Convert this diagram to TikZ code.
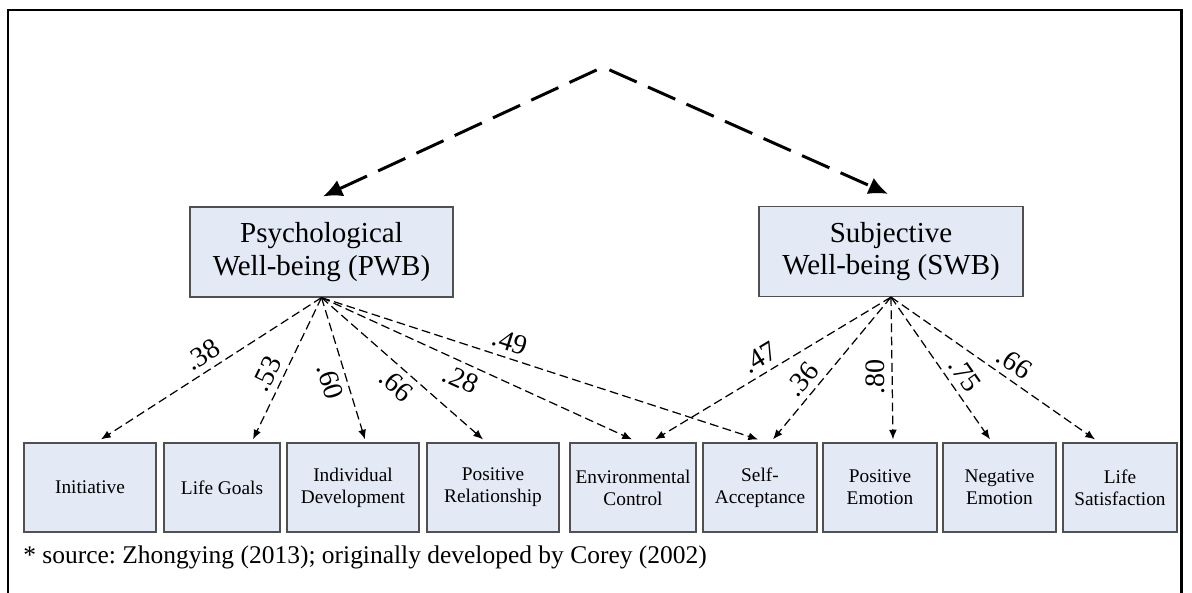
\documentclass[tikz,border=0pt]{standalone}
\usepackage{fontspec}
\setmainfont{Liberation Serif}
\usetikzlibrary{arrows.meta}
\usetikzlibrary{calc}
\frenchspacing
\definecolor{boxfill}{HTML}{E3EAF5}
\definecolor{boxline}{HTML}{505050}
\tikzset{factor/.style={draw=boxline,fill=boxfill,line width=0.7pt,align=center,
  minimum height=1.8cm,font=\fontsize{16.5}{18.5}\selectfont}}
\tikzset{facet/.style={draw=boxline,fill=boxfill,line width=0.7pt,align=center,
  minimum height=1.78cm,inner sep=1pt,font=\fontsize{11}{12.5}\selectfont}}
\tikzset{toparrow/.style={line width=1.7pt,dash pattern=on 17pt off 7pt,
  -{Latex[length=11pt,width=10pt]},shorten <=4pt}}
\tikzset{load/.style={line width=0.7pt,dash pattern=on 5pt off 2.5pt,
  -{Latex[length=5.5pt,width=4.5pt]}}}
\tikzset{coef/.style={font=\fontsize{16}{16}\selectfont,inner sep=3.5pt}}

\begin{document}
\begin{tikzpicture}[x=0.02cm,y=-0.02cm]

		\useasboundingbox (0,0) rectangle (1192,592);

		% The frame
		\draw [line width=1.7pt] (8,600) -- (8,10) -- (1181,10) -- (1181,600);

		% The two factors
		\node [factor, minimum width=5.26cm] (pwb) at (321.5,252)
			{Psychological\\Well-being (PWB)};
		\node [factor, minimum width=5.28cm] (swb) at (891,251.5)
			{Subjective\\Well-being (SWB)};

		% The facets
		\node [facet, minimum width=2.64cm] (init)    at (90,487.5)   {Initiative};
		\node [facet, minimum width=2.32cm] (goals)   at (222,487.5)  {Life Goals};
		\node [facet, minimum width=2.64cm] (indiv)   at (353,487.5)  {Individual\\Development};
		\node [facet, minimum width=2.64cm] (posrel)  at (493,487.5)  {Positive\\Relationship};
		\node [facet, minimum width=2.52cm] (envc)    at (633,487.5)  {Environmental\\Control};
		\node [facet, minimum width=2.28cm] (selfacc) at (760,487.5)  {Self-\\Acceptance};
		\node [facet, minimum width=2.28cm] (posem)   at (880,487.5)  {Positive\\Emotion};
		\node [facet, minimum width=2.26cm] (negem)   at (999.5,487.5){Negative\\Emotion};
		\node [facet, minimum width=2.28cm] (lifesat) at (1120,487.5) {Life\\Satisfaction};

		% The top arrows
		\coordinate (apex) at (603,67);
		\draw [toparrow] (apex) -- ($(pwb.north)+(1.5,-10)$);
		\draw [toparrow] (apex) -- ($(swb.north)+(-3,-12)$);

		% Loadings of PWB
		\draw [load] (pwb.south) -- ($(init.north)+(11,-3)$)
			node [coef, sloped, pos=0.5, above] {.38};
		\draw [load] (pwb.south) -- ($(goals.north)+(31,-3)$)
			node [coef, sloped, pos=0.59, above] {.53};
		\draw [load] (pwb.south) -- ($(indiv.north)+(12,-3)$)
			node [coef, sloped, pos=0.56, below] {.60};
		\draw [load] (pwb.south) -- ($(posrel.north)+(-10,-3)$)
			node [coef, sloped, pos=0.53, below] {.66};
		\draw [load] (pwb.south) -- ($(envc.north)+(-1,-3)$)
			node [coef, sloped, pos=0.47, below] {.28};
		\draw [load] (pwb.south) -- ($(selfacc.north)+(-2,-3)$)
			node [coef, sloped, pos=0.42, above] {.49};

		% Loadings of SWB
		\draw [load] (swb.south) -- ($(envc.north)+(22,-3)$)
			node [coef, sloped, pos=0.52, above] {.47};
		\draw [load] (swb.south) -- ($(selfacc.north)+(13,-3)$)
			node [coef, sloped, pos=0.65, above] {.36};
		\draw [load] (swb.south) -- ($(posem.north)+(13,-3)$)
			node [coef, rotate=90, pos=0.56, above] {.80};
		\draw [load] (swb.south) -- ($(negem.north)+(-9.5,-3)$)
			node [coef, sloped, pos=0.61, above] {.75};
		\draw [load] (swb.south) -- ($(lifesat.north)+(-25,-3)$)
			node [coef, sloped, pos=0.56, above] {.66};

		% The source
		\node [anchor=west, inner sep=0pt, font=\fontsize{14.5}{16}\selectfont] (source)
			at (23,557) {* source: Zhongying (2013); originally developed by Corey (2002)};

	\end{tikzpicture}
\end{document}
